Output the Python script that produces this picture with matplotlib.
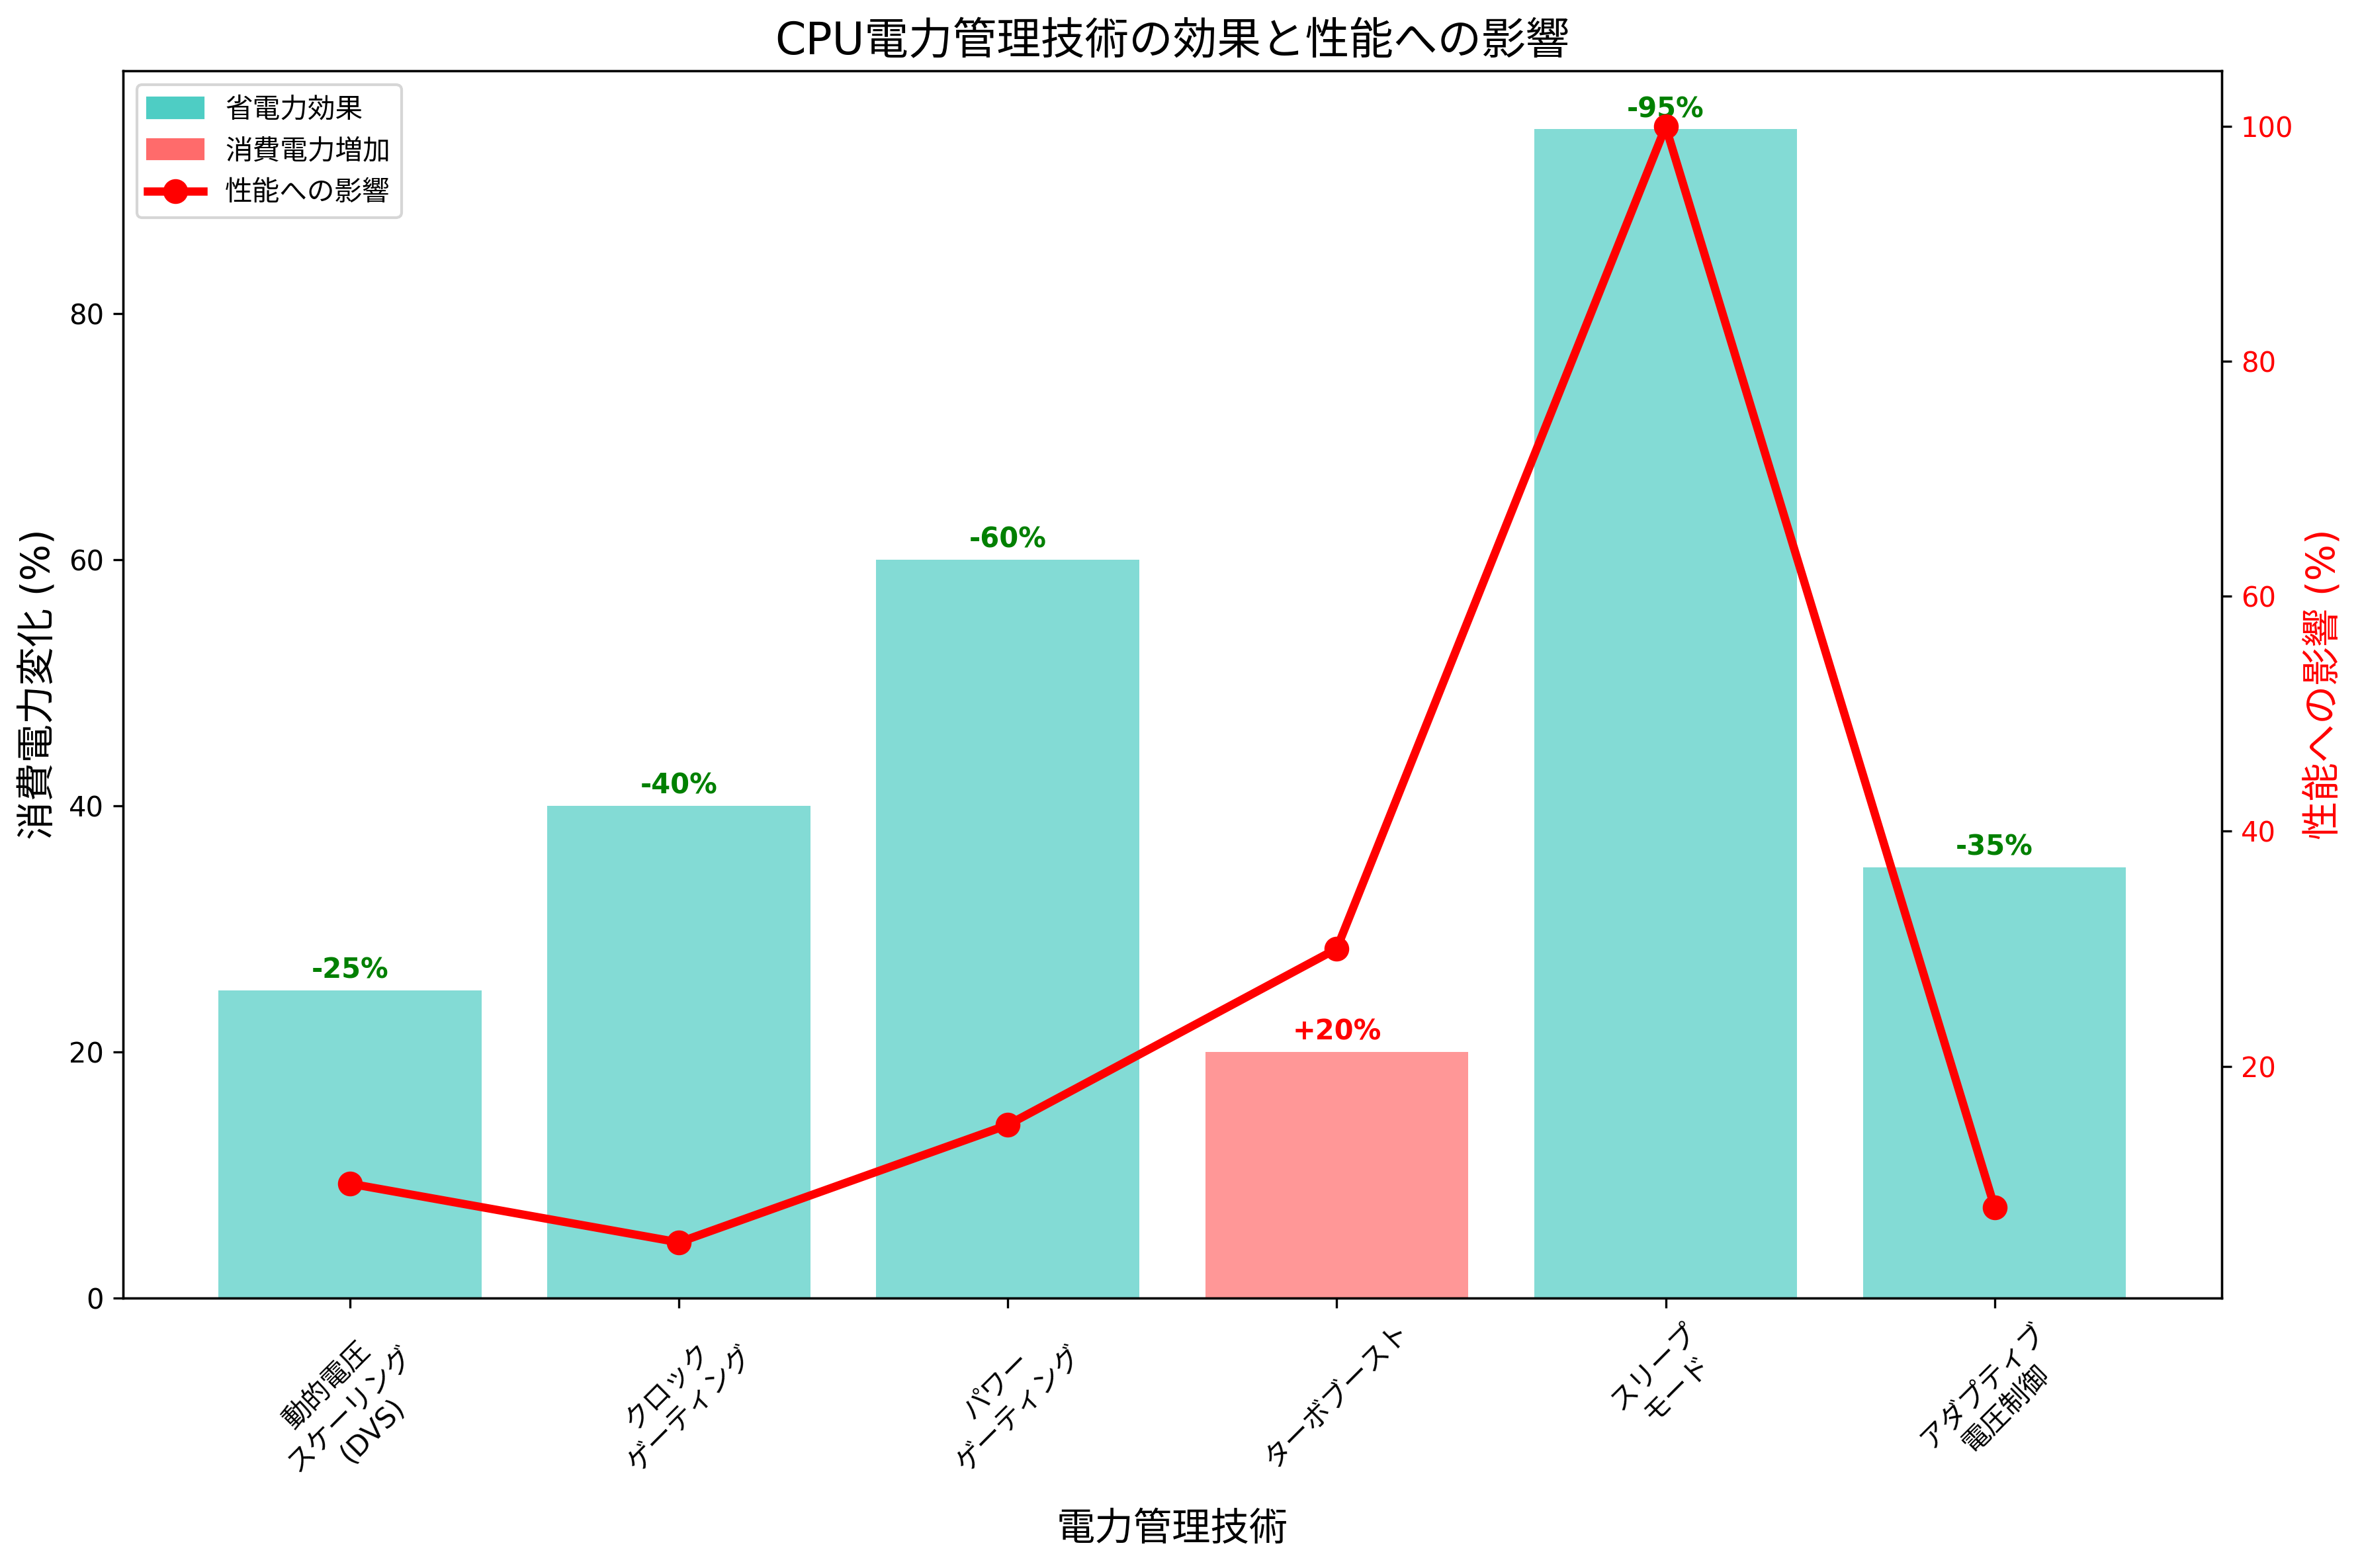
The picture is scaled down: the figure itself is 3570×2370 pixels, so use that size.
import matplotlib
matplotlib.use("Agg")
import matplotlib.pyplot as plt
from matplotlib.patches import Patch
from matplotlib.lines import Line2D
import numpy as np

plt.rcParams['font.family'] = ['DejaVu Sans', 'Noto Sans CJK JP']

techniques = ['動的電圧\nスケーリング\n(DVS)', 'クロック\nゲーティング', 'パワー\nゲーティング',
              'ターボブースト', 'スリープ\nモード', 'アダプティブ\n電圧制御']
power_change = [-25, -40, -60, 20, -95, -35]
performance_impact = [10, 5, 15, 30, 100, 8]

fig, ax1 = plt.subplots(figsize=(12, 8), dpi=300)
x = np.arange(len(techniques))
colors = ['#FF6B6B' if v > 0 else '#4ECDC4' for v in power_change]
bars = ax1.bar(x, [abs(v) for v in power_change], color=colors, alpha=0.7, width=0.8)
for b, v in zip(bars, power_change):
    ax1.text(b.get_x() + b.get_width() / 2, b.get_height() + 0.5,
             f'{v:+d}%', ha='center', va='bottom', fontweight='bold', fontsize=10,
             color='red' if v > 0 else 'green')

ax1.set_xlabel('電力管理技術', fontsize=14)
ax1.set_ylabel('消費電力変化 (%)', fontsize=14)
ax1.set_xticks(x)
ax1.set_xticklabels(techniques, rotation=45)
ax1.set_title('CPU電力管理技術の効果と性能への影響', fontsize=16)

ax2 = ax1.twinx()
ax2.plot(x, performance_impact, color='red', marker='o', linewidth=3, markersize=8)
ax2.set_ylabel('性能への影響 (%)', color='red', fontsize=14)
ax2.tick_params(axis='y', labelcolor='red')

handles = [Patch(color='#4ECDC4', label='省電力効果'),
           Patch(color='#FF6B6B', label='消費電力増加'),
           Line2D([0], [0], color='red', marker='o', linewidth=3, markersize=8, label='性能への影響')]
ax1.legend(handles=handles, loc='upper left')

plt.tight_layout()
plt.savefig('out.png', dpi=300, bbox_inches='tight')
